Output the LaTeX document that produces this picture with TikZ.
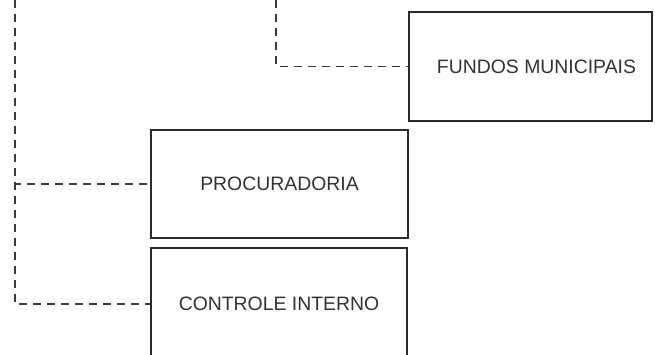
\documentclass[tikz,border=0pt]{standalone}
\usepackage{fontspec}
\setmainfont{Liberation Sans}
\definecolor{boxline}{HTML}{2A2A2A}
\definecolor{txt}{HTML}{333333}
\definecolor{dashc}{HTML}{3A3A3A}
\begin{document}
\begin{tikzpicture}[x=1pt,y=-1pt,
  orgbox/.style={draw=boxline,line width=1.8pt,text=txt,font=\fontsize{19.4}{22}\selectfont,inner sep=0pt,anchor=center},
  link/.style={draw=dashc,line width=1.4pt,dash pattern=on 8pt off 6pt}]
\useasboundingbox (0,0) rectangle (655,355);
\clip (0,0) rectangle (655,355);
\fill[white] (0,0) rectangle (655,355);
\node[orgbox,minimum width=243,minimum height=109] (fundos) at (530.5,66.5) {\hspace*{12pt}FUNDOS MUNICIPAIS};
\node[orgbox,minimum width=257,minimum height=108] (proc) at (279.5,184) {PROCURADORIA};
\node[orgbox,minimum width=256,minimum height=112] (ctrl) at (279,304) {CONTROLE INTERNO};
\coordinate (topA) at (15,0);
\coordinate (topB) at (276,0);
\draw[link] (topB) |- (fundos.west);
\draw[link] (topA) |- (proc.west);
\draw[link] (topA) |- (ctrl.west);
\end{tikzpicture}
\end{document}
